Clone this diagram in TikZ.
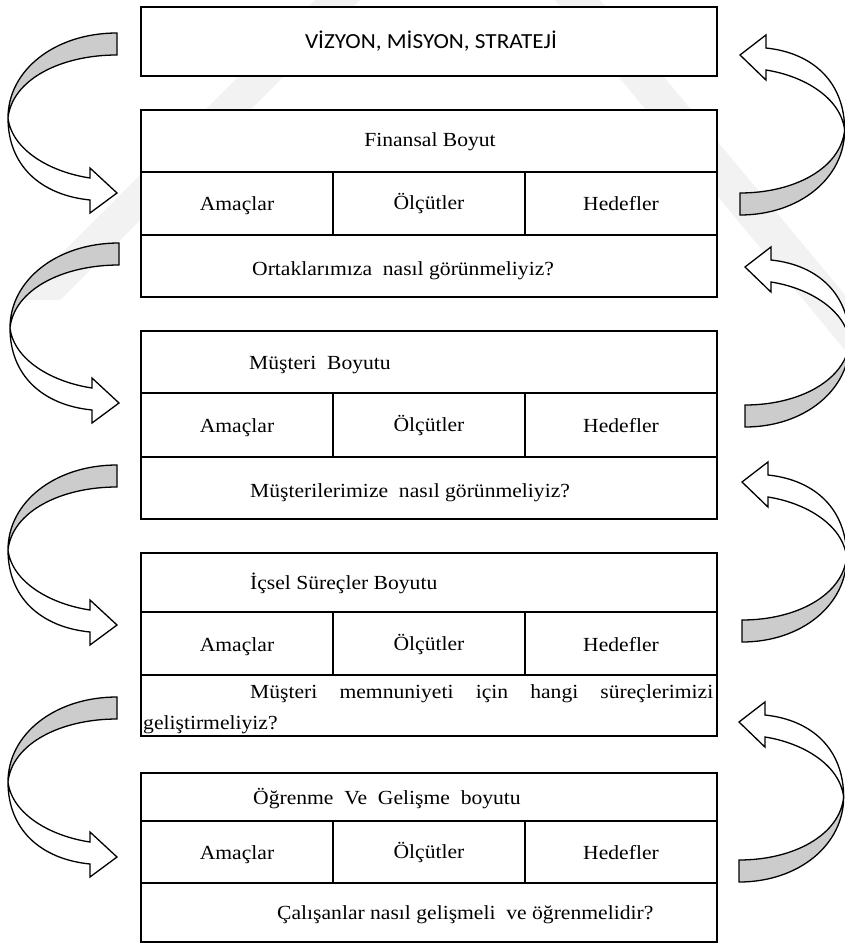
\documentclass[tikz,border=0pt]{standalone}
\usepackage{fontspec}
\setmainfont{Liberation Serif}[FakeStretch=1.08]
\newfontfamily\headsans{Carlito}[FakeStretch=1.08]

\tikzset{
  panel/.style={draw, line width=1.8pt, fill=white, minimum width=576pt,
    minimum height=#1, inner sep=0pt, outer sep=0pt},
  cell/.style={draw, line width=1.8pt, fill=white, minimum width=192pt,
    minimum height=#1, inner sep=0pt, outer sep=0pt},
  txt/.style={inner sep=0pt, font=\fontsize{20}{24}\selectfont},
  ribbon/.style={fill=black!20},
  band/.style={fill=black!5},
  uturn/.pic={
    % back side of the twisted band (grey)
    \filldraw[ribbon, draw=black, line width=1.3pt]
      (0,-160) .. controls (-62,-160) and (-109,-123) .. (-109,-75)
      .. controls (-105,-113) and (-57,-138) .. (0,-138) -- cycle;
    % front side of the band with the arrow head
    \filldraw[fill=white, draw=black, line width=1.3pt, line join=miter]
      (-109,-75) .. controls (-105,-43) and (-67,-21) .. (-27,-15)
      -- (-27,-25) -- (0,0) -- (-27,20) -- (-27,7)
      .. controls (-77,2) and (-109,-28) .. (-109,-75) -- cycle;
  }
}

\begin{document}
\begin{tikzpicture}[x=1pt, y=-1pt]
\useasboundingbox (0,0) rectangle (845,944);
\fill[white] (0,0) rectangle (845,944);

% faint background bands
\fill[band] (315,0) -- (360,0) -- (60,300) -- (15,300) -- cycle;
\fill[band] (555,0) -- (600,0) -- (845,295) -- (845,350) -- cycle;

% mission box
\node[panel=69pt] (vms) at (429,41.5) {};
\node[txt, anchor=base, font=\headsans\fontsize{21.5}{25}\selectfont] (vmst) at (431,49) {VİZYON, MİSYON, STRATEJİ};

% financial perspective
\node[panel=62pt] (f1) at (429,141) {};
\node[cell=63pt] (fa) at (237,203.5) {};
\node[cell=63pt] (fb) at (429,203.5) {};
\node[cell=63pt] (fc) at (621,203.5) {};
\node[panel=62pt] (fq) at (429,266) {};
\node[txt, anchor=base] (f1t) at (430,147) {Finansal Boyut};
\node[txt, anchor=base] (fat) at (237,210) {Amaçlar};
\node[txt, anchor=base] (fbt) at (429,209) {Ölçütler};
\node[txt, anchor=base] (fct) at (621,210) {Hedefler};
\node[txt, anchor=base west] (fqt) at (252,275) {Ortaklarımıza\ \ nasıl görünmeliyiz?};

% customer perspective
\node[panel=62pt] (m1) at (429,362) {};
\node[cell=64pt] (ma) at (237,425) {};
\node[cell=64pt] (mb) at (429,425) {};
\node[cell=64pt] (mc) at (621,425) {};
\node[panel=62pt] (mq) at (429,488) {};
\node[txt, anchor=base west] (m1t) at (249,369) {Müşteri\ \ Boyutu};
\node[txt, anchor=base] (mat) at (237,432) {Amaçlar};
\node[txt, anchor=base] (mbt) at (429,431) {Ölçütler};
\node[txt, anchor=base] (mct) at (621,432) {Hedefler};
\node[txt, anchor=base west] (mqt) at (250,497) {Müşterilerimize\ \ nasıl görünmeliyiz?};

% internal process perspective
\node[panel=59pt] (s1) at (429,582.5) {};
\node[cell=63pt] (sa) at (237,643.5) {};
\node[cell=63pt] (sb) at (429,643.5) {};
\node[cell=63pt] (sc) at (621,643.5) {};
\node[panel=61pt] (sq) at (429,705.5) {};
\node[txt, anchor=base west] (s1t) at (250,589) {İçsel Süreçler Boyutu};
\node[txt, anchor=base] (sat) at (237,651) {Amaçlar};
\node[txt, anchor=base] (sbt) at (429,650) {Ölçütler};
\node[txt, anchor=base] (sct) at (621,651) {Hedefler};
\node[txt, anchor=base west] (sqt) at (250,698) {\makebox[463pt][s]{Müşteri memnuniyeti için hangi süreçlerimizi}};
\node[txt, anchor=base west] (squ) at (143,729) {geliştirmeliyiz?};

% learning and growth perspective
\node[panel=48pt] (g1) at (429,797) {};
\node[cell=62pt] (ga) at (237,852) {};
\node[cell=62pt] (gb) at (429,852) {};
\node[cell=62pt] (gc) at (621,852) {};
\node[panel=59pt] (gq) at (429,912.5) {};
\node[txt, anchor=base west] (g1t) at (253,804) {Öğrenme\ \ Ve\ \ Gelişme\ \ boyutu};
\node[txt, anchor=base] (gat) at (237,859) {Amaçlar};
\node[txt, anchor=base] (gbt) at (429,858) {Ölçütler};
\node[txt, anchor=base] (gct) at (621,859) {Hedefler};
\node[txt, anchor=base west] (gqt) at (277,919) {Çalışanlar nasıl gelişmeli\ \ ve öğrenmelidir?};

% twisted arrows on the left (downwards)
\pic (la1) at (117,193) {uturn};
\pic (la2) at (119,403) {uturn};
\pic (la3) at (117,625) {uturn};
\pic (la4) at (117,857) {uturn};

% twisted arrows on the right (upwards)
\pic[rotate=180, xscale=0.96] (ra1) at (740,55) {uturn};
\pic[rotate=180, xscale=0.96] (ra2) at (745,267) {uturn};
\pic[rotate=180, xscale=0.96] (ra3) at (742,482) {uturn};
\pic[rotate=180, xscale=0.96] (ra4) at (739,722) {uturn};
\end{tikzpicture}
\end{document}
